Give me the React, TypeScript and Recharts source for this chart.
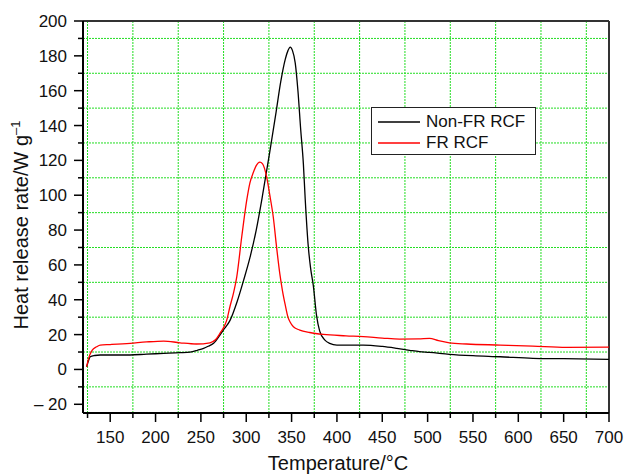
import React from "react";
import { LineChart, Line, XAxis, YAxis, CartesianGrid, ReferenceLine, Legend } from "recharts";

const FONT = "'Liberation Sans', Arial, sans-serif";

// Non-FR RCF
const nonFrTemp = [124, 126, 128, 133, 139, 150, 172, 190, 209, 227, 238, 246, 253, 258, 264, 271, 276, 282, 290, 297, 304, 311, 318, 326, 333, 338, 343, 346, 348.5, 351, 354, 357, 360, 363, 365, 368.5, 371, 374, 377.5, 381, 386.5, 392, 400, 415, 429, 450, 466, 480, 491, 502, 524, 550, 580, 616, 650, 700];
const nonFrHrr = [1.5, 5, 7.3, 8, 8.3, 8.3, 8.3, 8.8, 9.2, 9.6, 10, 11, 12.1, 13.3, 15, 19.7, 23.5, 28, 39, 51, 64, 80, 100, 125, 148, 165, 178, 183, 185, 183, 176, 160, 138, 118, 98, 70, 58, 48, 31, 22, 17, 15, 14, 14, 14, 13.2, 12.1, 11, 10.2, 9.8, 8.7, 7.9, 7.3, 6.4, 6.2, 5.8];

// FR RCF
const frTemp = [124, 126, 130, 135, 139, 150, 172, 190, 209, 227, 245, 260, 266, 271, 275, 278.5, 282, 286, 289.5, 295, 300.5, 304, 307.8, 311, 315, 318, 322.5, 326, 329.8, 333.5, 337, 340, 343, 346, 348.2, 352, 359, 370, 385, 410, 429, 450, 469, 490, 502, 512, 524, 543, 580, 616, 653, 700];
const frHrr = [1.5, 6, 11, 13, 14, 14.3, 15, 15.8, 16.3, 15.3, 14.6, 15.3, 17, 20.7, 24, 28.3, 36, 44, 53, 76, 97, 107, 113, 117, 119, 118, 110.5, 100, 87.5, 70, 55, 45, 37, 30, 27.4, 24.5, 22.6, 21.2, 20.1, 19.3, 18.8, 18, 17.4, 17.5, 17.8, 16.5, 15.3, 14.6, 14, 13.4, 12.7, 12.8];

const xTicks = [125, 150, 175, 200, 225, 250, 275, 300, 325, 350, 375, 400, 425, 450, 475, 500, 525, 550, 575, 600, 625, 650, 675, 700];
const yTicks = [-20, -10, 0, 10, 20, 30, 40, 50, 60, 70, 80, 90, 100, 110, 120, 130, 140, 150, 160, 170, 180, 190, 200];
const xGrid = [125, 175, 225, 275, 325, 375, 425, 475, 525, 575, 625, 675];
const yGrid = [-10, 10, 30, 50, 70, 90, 110, 130, 150, 170, 190];

const nonFr = nonFrTemp.map((x, i) => ({ x, y: nonFrHrr[i] }));
const fr = frTemp.map((x, i) => ({ x, y: frHrr[i] }));

const XTick = (props: any) => {
  const { x, y, payload } = props;
  const major = payload.value % 50 === 0;
  return (
    <g>
      <line x1={x} x2={x} y1={y} y2={y + (major ? 9 : 5)} stroke="#000" strokeWidth={1.5} />
      {major && (
        <text x={x} y={y + 30} textAnchor="middle" fontSize={17} fontFamily={FONT} fill="#111">
          {payload.value}
        </text>
      )}
    </g>
  );
};

const YTick = (props: any) => {
  const { x, y, payload } = props;
  const v = payload.value;
  const major = v % 20 === 0;
  return (
    <g>
      <line x1={x} x2={x - (major ? 9 : 5)} y1={y} y2={y} stroke="#000" strokeWidth={1.5} />
      {major && (
        <text x={x - 16} y={y + 6} textAnchor="end" fontSize={17} fontFamily={FONT} fill="#111">
          {v < 0 ? `– ${-v}` : v}
        </text>
      )}
    </g>
  );
};

const YTitle = (props: any) => {
  const vb = props.viewBox || { y: 21, height: 392 };
  const cx = 28;
  const cy = vb.y + vb.height / 2 + 8;
  return (
    <text x={cx} y={cy} transform={`rotate(-90 ${cx} ${cy})`} textAnchor="middle" fontSize={20} fontFamily={FONT} fill="#111">
      Heat release rate/W g
      <tspan fontSize={13} dy={-8}>–1</tspan>
    </text>
  );
};

const XTitle = () => (
  <text x={338} y={470} textAnchor="middle" fontSize={20} fontFamily={FONT} fill="#111">
    Temperature/°C
  </text>
);

const LegendBox = () => (
  <div
    style={{
      width: 163,
      height: 46,
      border: "1px solid #222",
      background: "#fff",
      fontFamily: FONT,
      fontSize: 17,
      color: "#111",
      position: "relative",
    }}
  >
    {[
      { name: "Non-FR RCF", color: "#000", top: 4 },
      { name: "FR RCF", color: "#ff0000", top: 25 },
    ].map((d) => (
      <div key={d.name} style={{ position: "absolute", left: 6, top: d.top, display: "flex", alignItems: "center", lineHeight: "20px" }}>
        <svg width={42} height={4} style={{ marginRight: 6 }}>
          <line x1={0} x2={42} y1={2} y2={2} stroke={d.color} strokeWidth={1.3} />
        </svg>
        <span>{d.name}</span>
      </div>
    ))}
  </div>
);

export default function App() {
  return (
    <div style={{ width: 625, height: 476, background: "#fff" }}>
      <style>{`body{margin:0}`}</style>
      <LineChart width={625} height={476} margin={{ top: 21, right: 16, left: 0, bottom: 0 }}>
        <CartesianGrid
          horizontalValues={yGrid}
          verticalValues={xGrid}
          stroke="#22dd22"
          strokeDasharray="2 1"
          strokeWidth={1}
        />
        <XAxis
          dataKey="x"
          type="number"
          domain={[120, 700]}
          ticks={xTicks}
          interval={0}
          allowDataOverflow
          height={63}
          tickSize={0}
          tickMargin={0}
          tick={<XTick />}
          axisLine={{ stroke: "#000", strokeWidth: 2 }}
          tickLine={false}
          label={<XTitle />}
        />
        <YAxis
          type="number"
          domain={[-25, 200]}
          ticks={yTicks}
          interval={0}
          allowDataOverflow
          width={83}
          tickSize={0}
          tickMargin={0}
          tick={<YTick />}
          axisLine={{ stroke: "#000", strokeWidth: 2 }}
          tickLine={false}
          label={<YTitle />}
        />
        <ReferenceLine y={200} stroke="#333" strokeWidth={2} />
        <ReferenceLine x={700} stroke="#333" strokeWidth={2} />
        <Line data={nonFr} dataKey="y" name="Non-FR RCF" type="monotone" stroke="#000" strokeWidth={1.3} dot={false} isAnimationActive={false} />
        <Line data={fr} dataKey="y" name="FR RCF" type="monotone" stroke="#ff0000" strokeWidth={1.3} dot={false} isAnimationActive={false} />
        <Legend
          layout="horizontal"
          verticalAlign="middle"
          align="center"
          content={<LegendBox />}
          wrapperStyle={{ position: "absolute", left: 371, top: 107, width: 165, height: 48 }}
        />
      </LineChart>
    </div>
  );
}
